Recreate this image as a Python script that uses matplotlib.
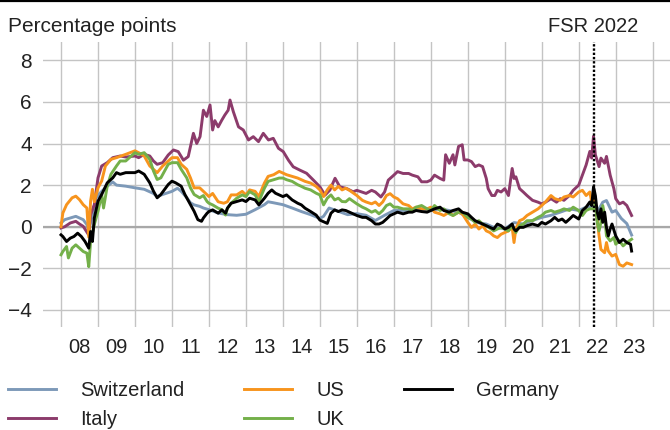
import numpy as np
import matplotlib
matplotlib.use("Agg")
import matplotlib.pyplot as plt
from matplotlib.lines import Line2D

plt.rcParams['font.family'] = ['Liberation Sans', 'DejaVu Sans']

# --- data (percentage points) ---
che_t = [2008.0, 2008.1, 2008.25, 2008.4, 2008.5, 2008.6, 2008.7, 2008.75, 2008.85, 2008.95,
         2009.1, 2009.25, 2009.4, 2009.5, 2009.75, 2010.0, 2010.25, 2010.5, 2010.6, 2010.75,
         2011.0, 2011.15, 2011.25, 2011.4, 2011.5, 2011.6, 2011.75, 2011.85, 2012.0, 2012.25,
         2012.5, 2012.75, 2013.0, 2013.25, 2013.5, 2013.6, 2013.75, 2014.0, 2014.25, 2014.5,
         2014.75, 2015.0, 2015.1, 2015.25, 2015.5, 2015.75, 2016.0, 2016.25, 2016.5, 2016.75,
         2017.0, 2017.25, 2017.5, 2017.75, 2018.0, 2018.25, 2018.5, 2018.75, 2019.0, 2019.25,
         2019.5, 2019.7, 2020.0, 2020.25, 2020.5, 2020.75, 2021.0, 2021.25, 2021.5, 2021.75,
         2022.0, 2022.2, 2022.4, 2022.5, 2022.65, 2022.75, 2022.9, 2023.0, 2023.15, 2023.3, 2023.43]
che_v = [0.18, 0.34, 0.42, 0.5, 0.42, 0.34, 0.1, -0.2, 0.6, 1.4,
         1.7, 1.95, 2.15, 2.0, 1.95, 1.87, 1.8, 1.6, 1.45, 1.55,
         1.7, 1.85, 1.7, 1.4, 1.15, 1.05, 0.98, 0.9, 0.82, 0.66,
         0.58, 0.55, 0.6, 0.82, 1.06, 1.2, 1.15, 1.06, 0.9, 0.73,
         0.58, 0.4, 0.5, 0.9, 0.74, 0.58, 0.63, 0.55, 0.3, 0.55,
         0.78, 0.78, 0.78, 0.86, 0.78, 0.86, 0.78, 0.7, 0.45, 0.2,
         0.13, -0.03, -0.1, 0.2, 0.13, 0.3, 0.45, 0.55, 0.7, 0.86,
         0.78, 0.94, 1.0, 0.7, 1.18, 1.26, 0.7, 0.78, 0.4, 0.15, -0.4]

ita_t = [2008.0, 2008.1, 2008.25, 2008.4, 2008.5, 2008.6, 2008.75, 2008.8, 2008.9, 2009.0,
         2009.1, 2009.25, 2009.4, 2009.6, 2009.75, 2010.0, 2010.1, 2010.25, 2010.4, 2010.5,
         2010.6, 2010.75, 2010.9, 2011.04, 2011.17, 2011.31, 2011.44, 2011.58, 2011.67, 2011.76,
         2011.85, 2011.94, 2012.03, 2012.1, 2012.16, 2012.25, 2012.35, 2012.43, 2012.52, 2012.57,
         2012.66, 2012.8, 2012.93, 2013.07, 2013.2, 2013.34, 2013.47, 2013.61, 2013.74, 2013.88,
         2014.01, 2014.15, 2014.28, 2014.46, 2014.64, 2014.82, 2015.0, 2015.14, 2015.27, 2015.41,
         2015.54, 2015.72, 2015.9, 2016.0, 2016.25, 2016.4, 2016.5, 2016.65, 2016.75, 2016.85,
         2017.0, 2017.1, 2017.25, 2017.4, 2017.5, 2017.65, 2017.75, 2017.9, 2018.0, 2018.1,
         2018.25, 2018.35, 2018.4, 2018.5, 2018.6, 2018.65, 2018.75, 2018.85, 2018.9, 2019.0,
         2019.1, 2019.2, 2019.3, 2019.4, 2019.5, 2019.55, 2019.65, 2019.73, 2019.8, 2019.9,
         2020.0, 2020.1, 2020.2, 2020.25, 2020.3, 2020.4, 2020.5, 2020.6, 2020.75, 2020.9,
         2021.0, 2021.1, 2021.25, 2021.4, 2021.5, 2021.6, 2021.75, 2021.85, 2022.0, 2022.1,
         2022.2, 2022.3, 2022.35, 2022.4, 2022.45, 2022.55, 2022.6, 2022.7, 2022.75, 2022.85,
         2022.95, 2023.0, 2023.1, 2023.2, 2023.3, 2023.43]
ita_v = [-0.06, 0.0, 0.18, 0.26, 0.13, 0.02, -0.4, 0.58, 1.06, 2.35,
         2.92, 3.08, 3.32, 3.4, 3.35, 3.4, 3.32, 3.48, 3.4, 3.16,
         3.0, 3.08, 3.45, 3.69, 3.61, 3.2, 3.37, 4.49, 4.0, 4.33,
         5.6, 5.3, 5.85, 4.65, 5.1, 4.8, 5.13, 5.37, 5.6, 6.09,
         5.53, 4.8, 4.65, 4.17, 4.33, 4.09, 4.49, 4.17, 4.25, 3.77,
         3.61, 3.2, 2.88, 2.72, 2.57, 2.25, 1.92, 1.52, 1.76, 2.33,
         1.92, 1.84, 1.68, 1.75, 1.6, 1.75, 1.67, 1.43, 1.67, 2.24,
         2.48, 2.65, 2.56, 2.56, 2.48, 2.4, 2.16, 2.16, 2.24, 2.48,
         2.32, 2.24, 3.46, 3.05, 3.46, 2.97, 3.86, 3.94, 3.21, 3.21,
         3.13, 2.89, 2.97, 2.89, 2.32, 1.83, 1.5, 1.5, 1.75, 1.67,
         1.83, 1.5, 2.8, 2.32, 2.4, 1.83, 1.67, 1.5, 1.27, 1.18,
         1.1, 1.18, 1.35, 1.18, 1.35, 1.27, 1.5, 1.75, 2.0, 2.48,
         2.97, 3.62, 3.3, 4.35, 3.46, 2.89, 3.3, 3.05, 3.38, 2.48,
         1.83, 1.35, 1.1, 1.18, 1.02, 0.54]

us_t = [2008.0, 2008.05, 2008.15, 2008.3, 2008.4, 2008.5, 2008.6, 2008.7, 2008.75, 2008.8,
        2008.85, 2008.9, 2009.0, 2009.1, 2009.2, 2009.35, 2009.5, 2009.75, 2010.0, 2010.1,
        2010.25, 2010.4, 2010.5, 2010.6, 2010.75, 2010.9, 2011.0, 2011.15, 2011.25, 2011.4,
        2011.5, 2011.6, 2011.75, 2011.85, 2011.95, 2012.0, 2012.1, 2012.25, 2012.4, 2012.5,
        2012.6, 2012.75, 2012.9, 2013.0, 2013.1, 2013.25, 2013.35, 2013.5, 2013.6, 2013.75,
        2013.9, 2014.0, 2014.1, 2014.25, 2014.4, 2014.5, 2014.6, 2014.75, 2014.9, 2015.0,
        2015.1, 2015.2, 2015.3, 2015.4, 2015.5, 2015.6, 2015.7, 2015.8, 2016.0, 2016.15,
        2016.25, 2016.4, 2016.5, 2016.6, 2016.7, 2016.8, 2016.9, 2017.0, 2017.1, 2017.25,
        2017.4, 2017.5, 2017.6, 2017.75, 2017.9, 2018.0, 2018.1, 2018.25, 2018.35, 2018.5,
        2018.6, 2018.75, 2018.85, 2019.0, 2019.1, 2019.2, 2019.3, 2019.4, 2019.5, 2019.6,
        2019.7, 2019.8, 2019.9, 2020.0, 2020.1, 2020.2, 2020.25, 2020.3, 2020.4, 2020.5,
        2020.6, 2020.75, 2020.9, 2021.0, 2021.1, 2021.25, 2021.35, 2021.5, 2021.6, 2021.75,
        2021.85, 2022.0, 2022.1, 2022.2, 2022.3, 2022.35, 2022.4, 2022.45, 2022.5, 2022.55,
        2022.6, 2022.7, 2022.75, 2022.8, 2022.9, 2023.0, 2023.1, 2023.2, 2023.3, 2023.43]
us_v = [0.0, 0.66, 1.06, 1.39, 1.47, 1.3, 1.06, 0.9, -0.5, 1.23,
        1.8, 1.2, 1.87, 2.2, 2.92, 3.24, 3.32, 3.48, 3.65, 3.56,
        3.4, 2.92, 2.76, 2.6, 2.92, 3.16, 3.32, 3.32, 3.0, 2.76,
        2.35, 1.87, 1.87, 1.7, 1.53, 1.45, 1.6, 1.2, 1.13, 1.2,
        1.53, 1.53, 1.7, 1.53, 1.77, 1.7, 1.45, 2.1, 2.42, 2.5,
        2.66, 2.58, 2.5, 2.42, 2.34, 2.26, 2.18, 2.1, 1.94, 1.77,
        1.45, 1.77, 2.0, 1.77, 1.94, 1.77, 1.85, 1.75, 1.5, 1.27,
        1.19, 1.1, 1.19, 1.02, 1.19, 1.5, 1.59, 1.43, 1.35, 1.1,
        1.02, 0.86, 0.94, 0.86, 0.86, 0.94, 0.7, 0.62, 0.54, 0.7,
        0.54, 0.7, 0.62, 0.21, -0.03, 0.13, -0.11, 0.05, -0.2, -0.28,
        -0.44, -0.52, -0.36, -0.28, -0.2, -0.03, -0.76, -0.11, 0.29, 0.37,
        0.54, 0.7, 0.86, 1.02, 1.19, 1.5, 1.35, 1.27, 1.43, 1.5,
        1.43, 1.67, 1.75, 1.5, 1.67, 1.19, 1.5, 1.02, 0.37, -0.44,
        -1.09, -1.25, -0.76, -1.17, -1.41, -1.33, -1.82, -1.9, -1.74, -1.82]

uk_t = [2008.0, 2008.05, 2008.15, 2008.2, 2008.3, 2008.4, 2008.5, 2008.6, 2008.7, 2008.75,
        2008.8, 2008.9, 2009.0, 2009.1, 2009.15, 2009.25, 2009.35, 2009.5, 2009.6, 2009.75,
        2010.0, 2010.1, 2010.25, 2010.4, 2010.5, 2010.6, 2010.7, 2010.8, 2010.9, 2011.0,
        2011.15, 2011.25, 2011.4, 2011.5, 2011.6, 2011.75, 2011.85, 2011.95, 2012.0, 2012.1,
        2012.25, 2012.35, 2012.45, 2012.5, 2012.6, 2012.75, 2012.9, 2013.0, 2013.1, 2013.25,
        2013.35, 2013.5, 2013.6, 2013.75, 2013.9, 2014.0, 2014.1, 2014.25, 2014.4, 2014.5,
        2014.6, 2014.75, 2014.9, 2015.0, 2015.1, 2015.2, 2015.3, 2015.4, 2015.5, 2015.6,
        2015.7, 2015.8, 2016.0, 2016.15, 2016.25, 2016.4, 2016.5, 2016.6, 2016.7, 2016.8,
        2016.9, 2017.0, 2017.1, 2017.25, 2017.4, 2017.5, 2017.6, 2017.75, 2017.9, 2018.0,
        2018.1, 2018.25, 2018.35, 2018.5, 2018.6, 2018.75, 2018.85, 2019.0, 2019.1, 2019.2,
        2019.3, 2019.4, 2019.5, 2019.6, 2019.7, 2019.8, 2019.9, 2020.0, 2020.1, 2020.2,
        2020.3, 2020.4, 2020.5, 2020.6, 2020.75, 2020.9, 2021.0, 2021.1, 2021.25, 2021.35,
        2021.5, 2021.6, 2021.75, 2021.85, 2022.0, 2022.1, 2022.2, 2022.3, 2022.4, 2022.45,
        2022.5, 2022.55, 2022.6, 2022.65, 2022.7, 2022.75, 2022.85, 2022.95, 2023.0, 2023.1,
        2023.2, 2023.3, 2023.43]
uk_v = [-1.35, -1.19, -0.95, -1.5, -1.03, -0.87, -1.03, -1.19, -1.27, -1.92,
        -0.71, 0.1, 0.74, 1.55, 0.9, 1.95, 2.52, 2.92, 3.16, 3.16,
        3.56, 3.48, 3.56, 3.24, 2.68, 2.27, 2.35, 2.68, 3.0, 3.08,
        3.08, 2.76, 2.35, 1.87, 1.55, 1.39, 1.5, 1.21, 1.13, 1.05,
        0.89, 0.82, 0.56, 0.89, 1.13, 1.37, 1.53, 1.45, 1.69, 1.53,
        1.21, 1.85, 2.18, 2.26, 2.34, 2.34, 2.26, 2.18, 2.02, 1.94,
        1.85, 1.77, 1.61, 1.53, 1.05, 1.37, 1.53, 1.29, 1.37, 1.21,
        1.2, 1.35, 1.1, 0.94, 0.86, 0.7, 0.78, 0.62, 0.78, 1.02,
        1.1, 0.94, 0.94, 0.86, 0.86, 0.78, 0.94, 1.02, 0.86, 0.78,
        1.02, 0.78, 0.86, 0.62, 0.54, 0.7, 0.7, 0.45, 0.37, 0.21,
        0.29, 0.13, 0.05, -0.07, -0.2, -0.11, -0.03, -0.11, -0.2, 0.05,
        -0.28, 0.05, 0.13, 0.29, 0.29, 0.45, 0.54, 0.7, 0.78, 0.7,
        0.78, 0.86, 0.78, 0.94, 0.78, 0.54, 0.78, 0.86, 0.86, 1.1,
        0.21, -0.2, 0.21, 1.02, 0.54, -0.44, -0.68, -0.52, -0.84, -0.68,
        -0.92, -0.76, -0.6]

de_t = [2008.0, 2008.05, 2008.15, 2008.25, 2008.35, 2008.45, 2008.55, 2008.65, 2008.75, 2008.8,
        2008.85, 2008.9, 2009.0, 2009.1, 2009.25, 2009.4, 2009.5, 2009.6, 2009.75, 2010.0,
        2010.1, 2010.25, 2010.4, 2010.5, 2010.6, 2010.7, 2010.8, 2010.9, 2011.0, 2011.1,
        2011.25, 2011.35, 2011.5, 2011.6, 2011.7, 2011.8, 2011.85, 2011.95, 2012.0, 2012.1,
        2012.25, 2012.35, 2012.45, 2012.5, 2012.6, 2012.75, 2012.9, 2013.0, 2013.1, 2013.25,
        2013.35, 2013.5, 2013.6, 2013.7, 2013.8, 2013.9, 2014.0, 2014.1, 2014.25, 2014.4,
        2014.5, 2014.6, 2014.75, 2014.9, 2015.0, 2015.1, 2015.2, 2015.3, 2015.4, 2015.5,
        2015.6, 2015.7, 2015.8, 2016.0, 2016.15, 2016.25, 2016.4, 2016.5, 2016.6, 2016.7,
        2016.8, 2016.9, 2017.0, 2017.1, 2017.25, 2017.4, 2017.5, 2017.6, 2017.75, 2017.9,
        2018.0, 2018.1, 2018.25, 2018.35, 2018.5, 2018.6, 2018.75, 2018.85, 2019.0, 2019.1,
        2019.2, 2019.3, 2019.4, 2019.5, 2019.6, 2019.7, 2019.8, 2019.9, 2020.0, 2020.1,
        2020.2, 2020.25, 2020.3, 2020.4, 2020.5, 2020.6, 2020.75, 2020.9, 2021.0, 2021.1,
        2021.25, 2021.35, 2021.45, 2021.55, 2021.65, 2021.75, 2021.85, 2022.0, 2022.1, 2022.2,
        2022.3, 2022.35, 2022.4, 2022.45, 2022.5, 2022.55, 2022.6, 2022.65, 2022.7, 2022.75,
        2022.8, 2022.85, 2022.9, 2023.0, 2023.1, 2023.2, 2023.3, 2023.4, 2023.43]
de_v = [-0.39, -0.47, -0.71, -0.55, -0.47, -0.31, -0.47, -0.71, -1.03, -0.23,
        -0.71, 0.42, 1.23, 1.55, 2.11, 2.35, 2.6, 2.52, 2.6, 2.6,
        2.68, 2.52, 2.11, 1.71, 1.39, 1.55, 1.79, 2.03, 2.19, 2.11,
        1.95, 1.55, 1.06, 0.74, 0.34, 0.26, 0.42, 0.65, 0.73, 0.81,
        0.65, 0.81, 0.65, 0.89, 1.13, 1.21, 1.29, 1.21, 1.37, 1.29,
        1.05, 1.37, 1.61, 1.77, 1.61, 1.53, 1.45, 1.53, 1.29, 1.13,
        1.05, 0.89, 0.73, 0.56, 0.32, 0.24, 0.16, 0.65, 0.81, 0.73,
        0.81, 0.78, 0.7, 0.54, 0.45, 0.45, 0.29, 0.13, 0.13, 0.21,
        0.37, 0.54, 0.62, 0.7, 0.62, 0.7, 0.7, 0.78, 0.73, 0.7,
        0.78, 0.86, 0.94, 0.78, 0.7, 0.78, 0.86, 0.7, 0.62, 0.45,
        0.29, 0.21, 0.13, 0.05, -0.03, -0.11, 0.13, 0.05, -0.11, -0.03,
        0.13, -0.11, -0.2, -0.03, -0.03, 0.05, 0.13, 0.05, 0.21, 0.13,
        0.29, 0.45, 0.29, 0.37, 0.21, 0.37, 0.54, 0.37, 0.78, 0.94,
        1.19, 1.02, 1.92, 1.5, 0.7, 0.37, 0.86, 0.21, 0.7, -0.03,
        -0.44, -0.11, 0.13, -0.44, -0.76, -0.6, -0.76, -0.84, -1.17]

series = [
    ("Switzerland", che_t, che_v, "#7d99b8"),
    ("Italy", ita_t, ita_v, "#8c3b6b"),
    ("US", us_t, us_v, "#f7941d"),
    ("UK", uk_t, uk_v, "#74b04a"),
    ("Germany", de_t, de_v, "#000000"),
]

years = list(range(2008, 2024))
year_labels = ["%02d" % (y % 100) for y in years]
y_ticks = [-4, -2, 0, 2, 4, 6, 8]
fsr_date = 2022.4

fs = 14.5
fig = plt.figure(figsize=(6.7, 4.3), dpi=100)
ax = fig.add_axes([43 / 670, 103 / 430, 627 / 670, 285 / 430])

handles = []
for name, t, v, col in series:
    ln, = ax.plot(t, v, color=col, lw=2.1, label=name, solid_joinstyle="round")
    handles.append(ln)

ax.set_xlim(2007.513, 2024.468)
ax.set_ylim(-4.82, 8.88)

# year boundaries as grid, labels in the middle of each year
ax.set_xticks(list(range(2008, 2025)))
ax.set_xticks([y + 0.5 for y in years], labels=year_labels, minor=True)
ax.tick_params(axis="x", which="major", length=0, labelbottom=False)
ax.tick_params(axis="x", which="minor", length=0, pad=8, labelsize=fs, colors="#222222")
ax.set_yticks(y_ticks, labels=[str(v).replace("-", "\u2212") for v in y_ticks])
ax.tick_params(axis="y", length=0, pad=8, labelsize=fs + 0.5, colors="#222222")
ax.grid(True, which="major", color="#c4c4c4", lw=1.0)
ax.set_axisbelow(True)
ax.axhline(0, color="#a8a8a8", lw=1.6, zorder=1.5)
for s in ax.spines.values():
    s.set_visible(False)

ax.axvline(fsr_date, color="black", lw=1.7, ls=(0, (1, 0.8)), dash_capstyle="butt", zorder=5)

fig.text(8 / 670, 1 - 26 / 430, "Percentage points", fontsize=fs + 0.5, va="center", ha="left", color="#222222")
fig.text(593 / 670, 1 - 26 / 430, "FSR 2022", fontsize=fs, va="center", ha="center", color="#222222")
fig.add_artist(Line2D([0, 1], [0.998, 0.998], color="black", lw=1.6))

fig.legend(handles=handles, loc="upper left", bbox_to_anchor=(8 / 670, 1 - 381 / 430), ncol=3,
           frameon=False, fontsize=fs, handlelength=2.4, handletextpad=1.2, columnspacing=2.95,
           labelspacing=0.5, borderpad=0, borderaxespad=0, labelcolor="#222222")

fig.savefig("out.png", dpi=100)
